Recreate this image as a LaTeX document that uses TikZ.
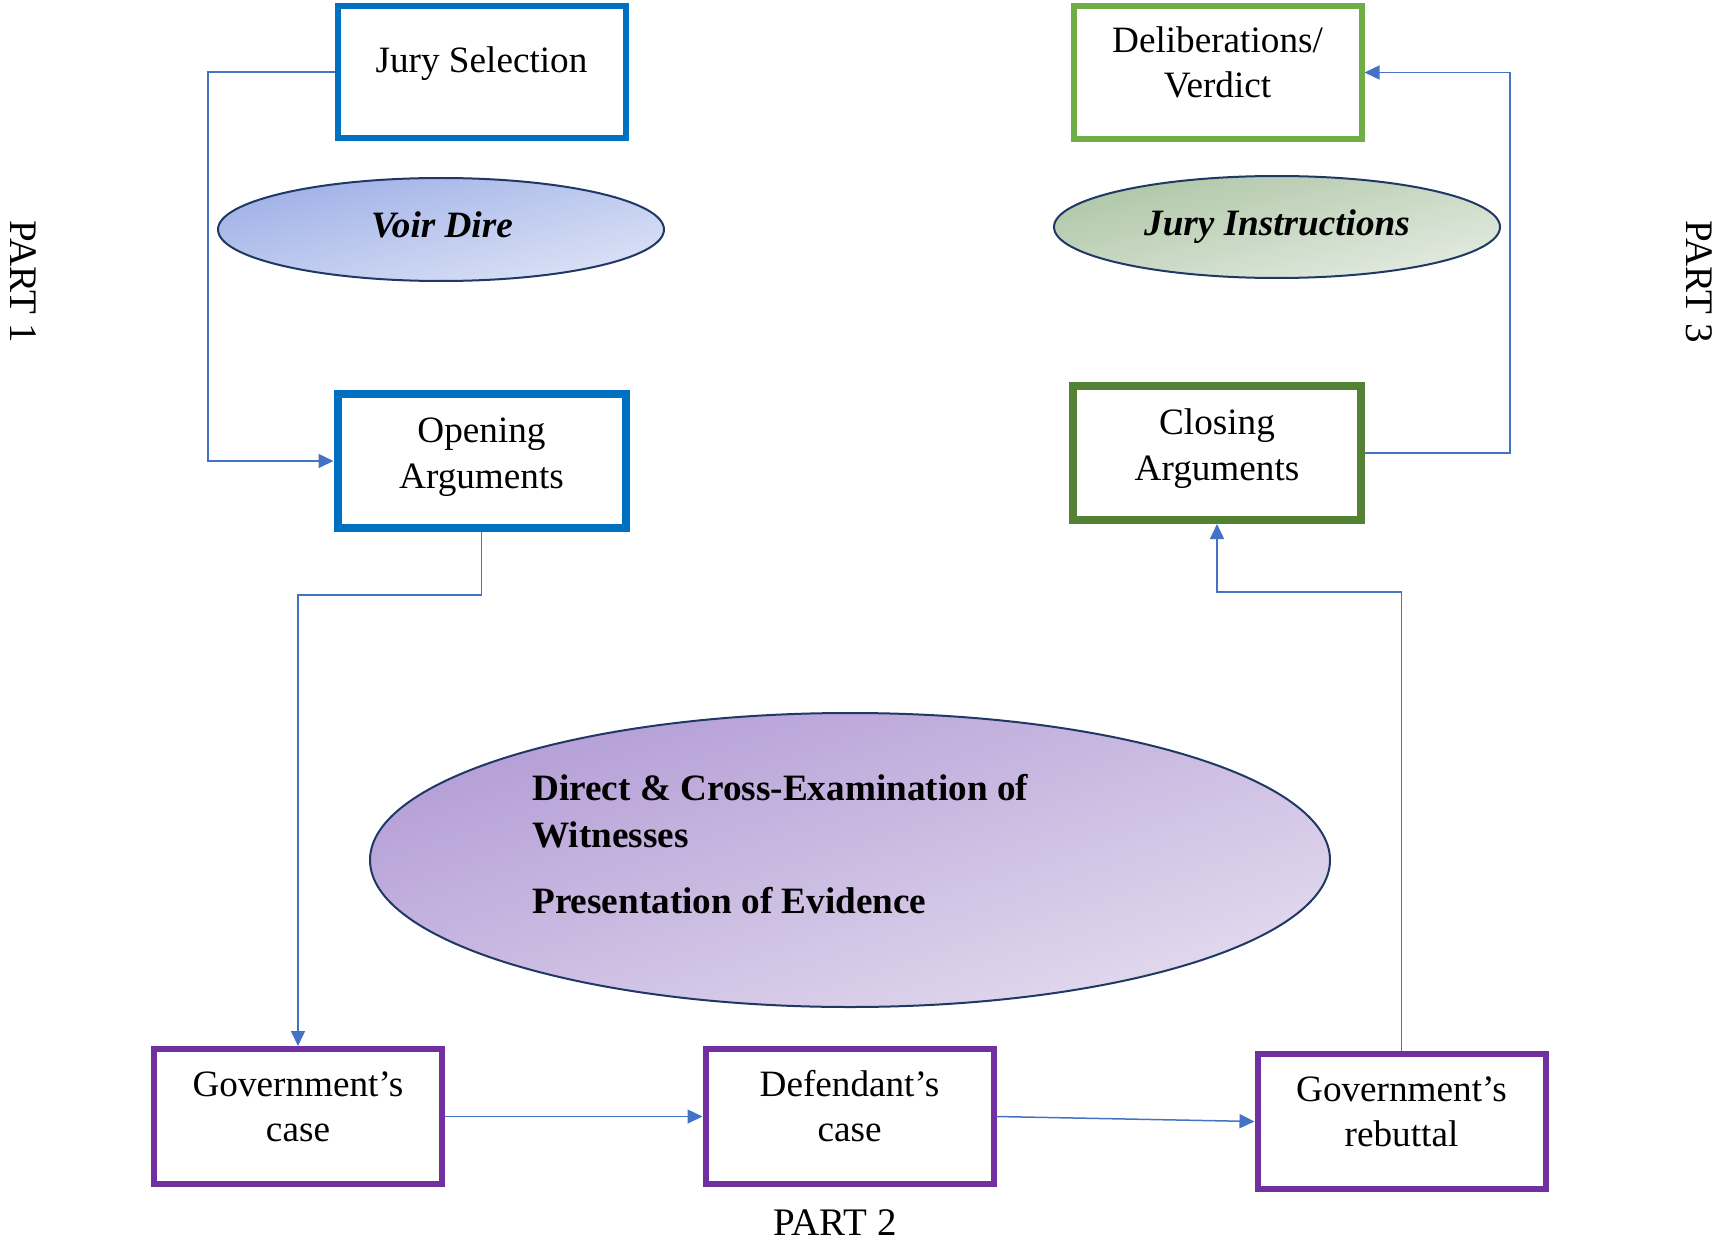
\documentclass[tikz,border=0pt]{standalone}
\usepackage{fontspec}
\setmainfont{Liberation Serif}
\usetikzlibrary{arrows.meta,shapes.geometric}
\definecolor{connc}{HTML}{4472C4}
\definecolor{bluebox}{HTML}{0070C0}
\definecolor{lgreen}{HTML}{70AD47}
\definecolor{dgreen}{HTML}{548235}
\definecolor{purp}{HTML}{7030A0}
\definecolor{navy}{HTML}{1F3864}
\definecolor{vdA}{HTML}{9FB0E7}
\definecolor{vdB}{HTML}{DCE3F6}
\definecolor{jiA}{HTML}{AEC6A6}
\definecolor{jiB}{HTML}{E3EBE1}
\definecolor{bgA}{HTML}{B39DD6}
\definecolor{bgB}{HTML}{E3DAEE}
\begin{document}
\begin{tikzpicture}[x=0.5pt,y=-0.5pt,
  box/.style={draw, rectangle, inner sep=0pt, minimum width=144pt, minimum height=67pt},
  thinbox/.style={box, line width=3pt},
  thickbox/.style={box, line width=4pt},
  oval/.style={draw=navy, line width=1pt, ellipse, inner sep=0pt},
  txt/.style={anchor=base, inner sep=0pt, font=\fontsize{18.6}{23}\selectfont},
  parttxt/.style={inner sep=0pt, font=\fontsize{19.5}{23}\selectfont},
  conn/.style={draw=connc, line width=0.75pt},
  arr/.style={conn, -{Triangle[length=7.5pt,width=7pt]}}
]
\useasboundingbox (0,0) rectangle (1717,1241);

% boxes
\node[thinbox, draw=bluebox, minimum height=66pt] (js) at (481.5,72) {};
\node[thinbox, draw=lgreen, minimum height=66.5pt] (dv) at (1217.5,72.5) {};
\node[thickbox, draw=bluebox] (op) at (481.5,461) {};
\node[thickbox, draw=dgreen] (cl) at (1217,453) {};
\node[thinbox, draw=purp, minimum height=67.5pt] (gov) at (298,1116.5) {};
\node[thinbox, draw=purp, minimum height=67.5pt] (def) at (849.5,1116.5) {};
\node[thinbox, draw=purp, minimum height=67.5pt] (reb) at (1401.5,1121.5) {};

% ellipses
\node[oval, minimum width=223pt, minimum height=51.5pt, top color=vdA, bottom color=vdB, shading angle=14] (vd) at (441,229.5) {};
\node[oval, minimum width=223pt, minimum height=51pt, top color=jiA, bottom color=jiB, shading angle=14] (ji) at (1277,227) {};
\node[oval, minimum width=480pt, minimum height=147pt, top color=bgA, bottom color=bgB, shading angle=18] (big) at (850,860) {};

% box texts
\node[txt] (jst) at (481.5,73) {Jury Selection};
\node[txt] (dvt1) at (1217.5,53) {Deliberations/};
\node[txt] (dvt2) at (1217.5,98) {Verdict};
\node[txt] (opt1) at (481.5,442) {Opening};
\node[txt] (opt2) at (481.5,488) {Arguments};
\node[txt] (clt1) at (1217,434) {Closing};
\node[txt] (clt2) at (1217,480) {Arguments};
\node[txt] (govt1) at (298,1096) {Government’s};
\node[txt] (govt2) at (298,1141) {case};
\node[txt] (deft1) at (849.5,1096) {Defendant’s};
\node[txt] (deft2) at (849.5,1141) {case};
\node[txt] (rebt1) at (1401.5,1101) {Government’s};
\node[txt] (rebt2) at (1401.5,1146) {rebuttal};

% ellipse texts
\node[txt, font=\fontsize{18.6}{23}\selectfont\bfseries\itshape] (vdt) at (442,238) {Voir Dire};
\node[txt, font=\fontsize{18.6}{23}\selectfont\bfseries\itshape] (jit) at (1277,235) {Jury Instructions};
\node[txt, anchor=base west, font=\fontsize{18.6}{23}\selectfont\bfseries] (bt1) at (532,800) {Direct \& Cross-Examination of};
\node[txt, anchor=base west, font=\fontsize{18.6}{23}\selectfont\bfseries] (bt2) at (532,847) {Witnesses};
\node[txt, anchor=base west, font=\fontsize{18.6}{23}\selectfont\bfseries] (bt3) at (532,913) {Presentation of Evidence};

% part labels
\node[parttxt, rotate=-90] (p1) at (23,282) {PART 1};
\node[parttxt, rotate=-90] (p3) at (1699,282) {PART 3};
\node[parttxt] (p2) at (835,1223) {PART 2};

% connectors
\coordinate (xl) at (208,0);
\coordinate (xr) at (1510,0);
\coordinate (ya) at (0,595);
\coordinate (yb) at (0,592);
\draw[arr] (js.west) -- (xl |- js.west) |- (op.west);
\draw[arr] (op.south) -- (op.south |- ya) -| (gov.north);
\draw[arr] (gov.east) -- (def.west);
\draw[arr] (def.east) -- (reb.west);
\draw[arr] (reb.north) -- (reb.north |- yb) -| (cl.south);
\draw[arr] (cl.east) -- (xr |- cl.east) |- (dv.east);
\end{tikzpicture}
\end{document}
